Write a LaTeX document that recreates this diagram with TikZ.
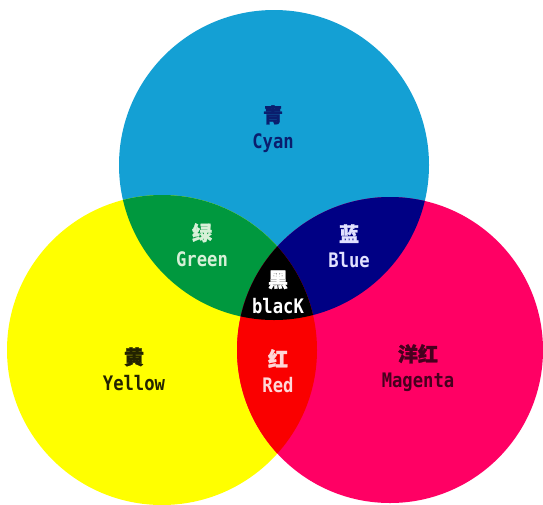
\documentclass[tikz,border=0pt]{standalone}
\usepackage{fontspec}
\newfontfamily\cjk{Noto Sans CJK SC}[FakeBold=1.5]
\newfontfamily\labfont{DejaVu Sans Mono}[FakeStretch=0.86]
\definecolor{inkC}{RGB}{20,160,212}
\definecolor{inkM}{RGB}{255,0,100}
\definecolor{inkY}{RGB}{255,255,0}
\definecolor{mixG}{RGB}{0,152,62}
\definecolor{mixB}{RGB}{0,0,132}
\definecolor{mixR}{RGB}{250,0,0}
\definecolor{txtC}{RGB}{10,30,110}
\definecolor{txtG}{RGB}{215,240,215}
\definecolor{txtB}{RGB}{225,225,255}
\definecolor{txtR}{RGB}{255,215,215}
\definecolor{txtM}{RGB}{70,0,30}
\definecolor{txtY}{RGB}{35,35,0}
\tikzset{
  lab/.style={align=center, inner sep=0pt,
    font=\labfont\bfseries\fontsize{20}{26}\selectfont},
}
\newcommand\zh[1]{{\cjk\fontsize{20}{26}\selectfont #1}}
\begin{document}
\begin{tikzpicture}[x=1pt,y=-1pt]
\def\R{155}
\useasboundingbox (0,0) rectangle (543,504);
\fill[white] (0,0) rectangle (543,504);
% three ink discs
\fill[inkC] (274,165) circle (\R);
\fill[inkY] (162,350) circle (\R);
\fill[inkM] (390,350) circle (153);
% overlaps
\begin{scope}
  \clip (274,165) circle (\R);
  \fill[mixG] (162,350) circle (\R);
  \fill[mixB] (390,350) circle (153);
\end{scope}
\begin{scope}
  \clip (162,350) circle (\R);
  \fill[mixR] (390,350) circle (153);
  \clip (274,165) circle (\R);
  \fill[black] (390,350) circle (153);
\end{scope}
% labels
\node[lab, text=txtC] (cyanlab) at (273,129) {\zh{青}\\Cyan};
\node[lab, text=txtG] (greenlab) at (202,245) {\zh{绿}\\Green};
\node[lab, text=txtB] (bluelab) at (349,246) {\zh{蓝}\\Blue};
\node[lab, text=white] (blacklab) at (278,292) {\zh{黑}\\blacK};
\node[lab, text=txtY] (yellowlab) at (134,369) {\zh{黄}\\Yellow};
\node[lab, text=txtR] (redlab) at (278,371) {\zh{红}\\Red};
\node[lab, text=txtM] (magentalab) at (418,368) {\zh{洋红}\\Magenta};
\end{tikzpicture}
\end{document}
